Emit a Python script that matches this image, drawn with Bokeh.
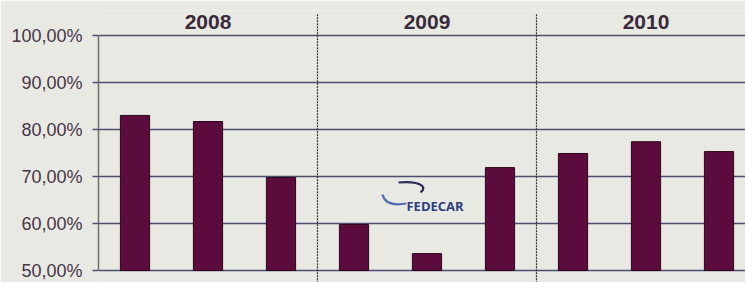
from bokeh.plotting import figure
from bokeh.models import Range1d, FixedTicker, ColumnDataSource
from bokeh.core.properties import value
from bokeh.embed import file_html
from bokeh.resources import INLINE

# ---- data ----
years = ["2008", "2009", "2010"]
bars_per_year = 3
values = [83.0, 81.7, 69.8, 59.8, 53.6, 71.9, 74.9, 77.4, 75.3]
y_ticks = [50, 60, 70, 80, 90, 100]
tick_labels = ["50,00%", "60,00%", "70,00%", "80,00%", "90,00%", "100,00%"]

BG = "#e9e9e4"
BAR = "#5c0c3c"
GRID = "#4e4e70"
TXT = "#463646"

Y0, Y1 = 47.45, 105.32
p = figure(width=745, height=282, output_backend="svg", toolbar_location=None,
           x_range=Range1d(0, 8.863), y_range=Range1d(Y0, Y1),
           x_axis_location=None, min_border_left=98, min_border_top=10,
           min_border_right=0, min_border_bottom=0)
p.background_fill_color = BG
p.border_fill_color = BG
p.outline_line_color = None
p.xgrid.grid_line_color = None

# y axis
yax = p.yaxis[0]
yax.ticker = FixedTicker(ticks=y_ticks)
yax.major_label_overrides = {t: l for t, l in zip(y_ticks, tick_labels)}
yax.bounds = (50, 100)
yax.axis_line_color = "#6e6e6e"
yax.axis_line_width = 1.5
yax.major_tick_out = 6
yax.major_tick_in = 0
yax.major_tick_line_color = GRID
yax.major_tick_line_width = 1.5
yax.minor_tick_line_color = None
yax.major_label_standoff = 10
yax.major_label_text_font = "Liberation Sans"
yax.major_label_text_font_size = "18px"
yax.major_label_text_color = TXT

p.ygrid.ticker = FixedTicker(ticks=y_ticks)
p.ygrid.grid_line_color = GRID
p.ygrid.grid_line_width = 1.5

# bars
xs = [i + 0.5 for i in range(len(values))]
src = ColumnDataSource(dict(x=xs, top=values))
p.vbar(x="x", top="top", bottom=50, width=0.4, source=src,
       fill_color=BAR, line_color="#2a0618", line_width=1)

# year separators
sep_x = [bars_per_year * (k + 1) for k in range(len(years) - 1)]
p.segment(x0=sep_x, x1=sep_x, y0=[104.5] * len(sep_x), y1=[Y0] * len(sep_x),
          line_color="#333333", line_width=1.2, line_dash="2 1")

# year labels
yx = [bars_per_year * k + bars_per_year / 2 for k in range(len(years))]
p.text(x=yx, y=[102.9] * len(years), text=years, text_align="center",
       text_baseline="middle", text_font=value("Liberation Sans"),
       text_font_size="21px", text_font_style="bold", text_color="#3a2a3a")

# FEDECAR logo (decorative)
p.bezier(x0=[3.890], y0=[66.17], x1=[4.219], y1=[64.26],
         cx0=[3.918], cy0=[64.26], cx1=[4.055], cy1=[63.83],
         line_color="#4f6fb5", line_width=2.2)
p.bezier(x0=[4.110], y0=[68.72], x1=[4.411], y1=[66.60],
         cx0=[4.384], cy0=[69.15], cx1=[4.521], cy1=[67.87],
         line_color="#2c2c55", line_width=2.2)
p.text(x=[4.219], y=[63.72], text=["FEDECAR"], text_align="left",
       text_baseline="middle", text_font=value("Open Sans"),
       text_font_size="13px", text_font_style="bold", text_color="#2b3f7f")

open("out.html", "w").write(file_html(p, INLINE))
